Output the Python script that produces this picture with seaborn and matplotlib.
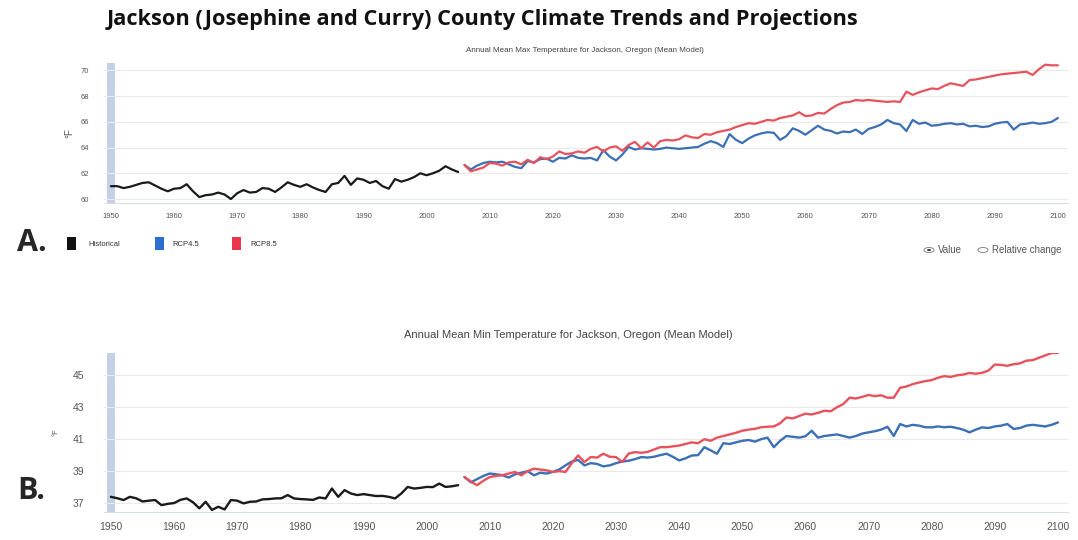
import matplotlib
matplotlib.use("Agg")

import matplotlib.pyplot as plt
import numpy as np
import pandas as pd
import seaborn as sns
from matplotlib.patches import Rectangle, Circle

# ---- data ----
hist_years = list(range(1950, 2006))
proj_years = list(range(2006, 2101))

tmax_hist = [
    61.0, 61.0, 60.85, 60.95, 61.1, 61.25, 61.3, 61.05, 60.8, 60.6,
    60.8, 60.85, 61.15, 60.6, 60.15, 60.3, 60.35, 60.5, 60.35, 60.0,
    60.45, 60.7, 60.5, 60.55, 60.85, 60.8, 60.55, 60.9, 61.3, 61.1,
    60.95, 61.15, 60.9, 60.7, 60.55, 61.15, 61.25, 61.8, 61.1, 61.6,
    61.5, 61.25, 61.4, 61.0, 60.8, 61.55, 61.35, 61.5, 61.7, 62.0,
    61.85, 62.0, 62.2, 62.55, 62.3, 62.1,
]
tmax_rcp45 = [
    62.65, 62.3, 62.6, 62.8,
    62.9, 62.85, 62.9, 62.7, 62.5, 62.4, 62.95, 62.85, 63.1, 63.15,
    62.9, 63.2, 63.15, 63.4, 63.2, 63.15, 63.2, 63.0, 63.8, 63.3,
    63.0, 63.45, 64.05, 63.85, 63.95, 63.9, 63.85, 63.9, 64.0, 63.95,
    63.9, 63.95, 64.0, 64.05, 64.3, 64.5, 64.35, 64.05, 65.05, 64.6,
    64.35, 64.7, 64.95, 65.1, 65.2, 65.15, 64.6, 64.9, 65.5, 65.3,
    65.0, 65.35, 65.7, 65.4, 65.3, 65.1, 65.25, 65.2, 65.4, 65.06,
    65.45, 65.6, 65.8, 66.15, 65.9, 65.8, 65.29, 66.15, 65.85, 65.95,
    65.7, 65.75, 65.85, 65.9, 65.8, 65.85, 65.65, 65.7, 65.6, 65.65,
    65.85, 65.95, 66.0, 65.4, 65.8, 65.85, 65.95, 65.85, 65.9, 66.0,
    66.3,
]
tmax_rcp85 = [
    62.65, 62.15, 62.3, 62.45,
    62.8, 62.75, 62.6, 62.85, 62.9, 62.7, 63.05, 62.8, 63.25, 63.1,
    63.3, 63.7, 63.5, 63.55, 63.7, 63.6, 63.9, 64.05, 63.7, 64.0,
    64.1, 63.75, 64.2, 64.45, 63.95, 64.4, 64.0, 64.5, 64.6, 64.55,
    64.65, 64.95, 64.8, 64.75, 65.05, 65.0, 65.2, 65.3, 65.4, 65.6,
    65.75, 65.9, 65.85, 66.0, 66.15, 66.1, 66.3, 66.4, 66.5, 66.75,
    66.45, 66.5, 66.7, 66.65, 67.0, 67.3, 67.5, 67.55, 67.7, 67.65,
    67.7, 67.65, 67.6, 67.55, 67.6, 67.55, 68.35, 68.1, 68.3, 68.45,
    68.6, 68.55, 68.8, 69.0, 68.9, 68.8, 69.25, 69.3, 69.4, 69.5,
    69.6, 69.7, 69.75, 69.8, 69.85, 69.9, 69.65, 70.1, 70.45, 70.4,
    70.4,
]

tmin_hist = [
    37.39, 37.3, 37.19, 37.39, 37.3, 37.1, 37.15, 37.19, 36.87, 36.95,
    37.0, 37.2, 37.29, 37.05, 36.67, 37.08, 36.57, 36.77, 36.6, 37.19,
    37.15, 36.98, 37.08, 37.1, 37.23, 37.25, 37.29, 37.3, 37.5, 37.29,
    37.25, 37.23, 37.2, 37.35, 37.29, 37.91, 37.39, 37.81, 37.6, 37.5,
    37.56, 37.5, 37.44, 37.45, 37.39, 37.29, 37.6, 38.01, 37.91, 37.95,
    38.01, 38.0, 38.22, 38.01, 38.05, 38.12,
]
tmin_rcp45 = [
    38.63, 38.3, 38.5, 38.7,
    38.85, 38.8, 38.75, 38.6, 38.8, 38.9, 39.0, 38.74, 38.9, 38.85,
    38.95, 39.1, 39.36, 39.6, 39.7, 39.36, 39.5, 39.45, 39.3, 39.36,
    39.5, 39.6, 39.65, 39.75, 39.88, 39.85, 39.9, 40.0, 40.09, 39.9,
    39.67, 39.8, 39.98, 40.0, 40.5, 40.3, 40.09, 40.75, 40.7, 40.8,
    40.9, 40.95, 40.85, 41.0, 41.1, 40.5, 40.9, 41.2, 41.15, 41.1,
    41.18, 41.53, 41.1, 41.2, 41.25, 41.3, 41.2, 41.1, 41.2, 41.35,
    41.43, 41.5, 41.6, 41.78, 41.2, 41.95, 41.8, 41.9, 41.85, 41.75,
    41.74, 41.8, 41.75, 41.78, 41.7, 41.6, 41.43, 41.6, 41.74, 41.7,
    41.8, 41.85, 41.95, 41.64, 41.7, 41.85, 41.9, 41.85, 41.8, 41.9,
    42.05,
]
tmin_rcp85 = [
    38.63, 38.35, 38.12, 38.4,
    38.63, 38.7, 38.74, 38.85, 38.95, 38.74, 39.0, 39.15, 39.1, 39.05,
    38.95, 39.0, 38.95, 39.5, 39.98, 39.57, 39.88, 39.85, 40.09, 39.9,
    39.88, 39.57, 40.1, 40.19, 40.15, 40.2, 40.35, 40.5, 40.5, 40.55,
    40.6, 40.7, 40.8, 40.75, 41.0, 40.9, 41.1, 41.2, 41.3, 41.4,
    41.53, 41.6, 41.65, 41.75, 41.78, 41.8, 42.0, 42.36, 42.3, 42.45,
    42.6, 42.55, 42.65, 42.78, 42.75, 43.0, 43.2, 43.6, 43.55, 43.65,
    43.77, 43.7, 43.75, 43.6, 43.6, 44.22, 44.3, 44.45, 44.55, 44.64,
    44.7, 44.85, 44.95, 44.9, 45.0, 45.05, 45.15, 45.1, 45.16, 45.3,
    45.68, 45.65, 45.6, 45.7, 45.75, 45.92, 45.95, 46.1, 46.25, 46.4,
    46.4,
]

series_names = ["Historical", "RCP4.5", "RCP8.5"]
palette = {"Historical": "#1a1a1a", "RCP4.5": "#3b6fb6", "RCP8.5": "#e8525c"}
legend_colors = {"Historical": "#111111", "RCP4.5": "#2a6fcf", "RCP8.5": "#e8364a"}

title = "Jackson (Josephine and Curry) County Climate Trends and Projections"
sub_max = "Annual Mean Max Temperature for Jackson, Oregon (Mean Model)"
sub_min = "Annual Mean Min Temperature for Jackson, Oregon (Mean Model)"
x_ticks = list(range(1950, 2101, 10))
y_ticks_max = [60, 62, 64, 66, 68, 70]
y_ticks_min = [37, 39, 41, 43, 45]


def to_long(hist, r45, r85):
    parts = [
        pd.DataFrame({"year": hist_years, "value": hist, "scenario": "Historical"}),
        pd.DataFrame({"year": proj_years, "value": r45, "scenario": "RCP4.5"}),
        pd.DataFrame({"year": proj_years, "value": r85, "scenario": "RCP8.5"}),
    ]
    return pd.concat(parts, ignore_index=True)


sns.set_theme(style="white")
plt.rcParams["font.family"] = ["Liberation Sans", "DejaVu Sans"]

fig = plt.figure(figsize=(10.78, 5.4), dpi=100)

W, H = 1078, 540


def axes_px(left, top, right, bottom):
    return fig.add_axes([left / W, 1 - bottom / H, (right - left) / W, (bottom - top) / H])


def style_axis(ax, df, ylim, yticks, tick_fs, lw, ypad):
    ax.axvspan(1949.3, 1950.7, color="#c3d0e6", zorder=0, lw=0)
    sns.lineplot(data=df, x="year", y="value", hue="scenario", hue_order=series_names,
                 palette=palette, linewidth=lw, legend=False, ax=ax, zorder=3)
    ax.set_xlim(1948.9, 2101.6)
    ax.set_ylim(*ylim)
    ax.set_yticks(yticks)
    ax.set_xticks(x_ticks)
    for y in yticks:
        ax.axhline(y, color="#e9e9e9", lw=0.8, zorder=1)
    for s in ["top", "right", "left"]:
        ax.spines[s].set_visible(False)
    ax.spines["bottom"].set_color("#d8dde6")
    ax.spines["bottom"].set_linewidth(0.8)
    ax.tick_params(axis="x", length=3, width=0.6, color="#d8dde6", labelsize=tick_fs,
                   labelcolor="#555555", pad=4)
    ax.tick_params(axis="y", length=0, labelsize=tick_fs, labelcolor="#555555", pad=ypad)
    ax.set_xlabel("")


# ---- top panel ----
ax1 = axes_px(104, 63, 1068, 203)
style_axis(ax1, to_long(tmax_hist, tmax_rcp45, tmax_rcp85), (59.69, 70.58), y_ticks_max, 5.5, 1.6, 11)
ax1.set_ylabel("°F", fontsize=7, color="#555555", labelpad=4)

# ---- bottom panel ----
ax2 = axes_px(104, 353, 1068, 512)
style_axis(ax2, to_long(tmin_hist, tmin_rcp45, tmin_rcp85), (36.44, 46.4), y_ticks_min, 7.5, 1.7, 14)
ax2.set_ylabel("°F", fontsize=5.5, color="#555555", labelpad=10)

# ---- texts ----
fig.text(107 / W, 1 - 19 / H, title, fontsize=15.7, fontweight="bold", family=["Open Sans", "DejaVu Sans"],
         color="#111111", ha="left", va="center")
fig.text(585 / W, 1 - 50 / H, sub_max, fontsize=5.8, color="#444444", ha="center", va="center")
fig.text(568 / W, 1 - 335 / H, sub_min, fontsize=8, color="#444444", ha="center", va="center")
fig.text(17 / W, 1 - 243 / H, "A.", fontsize=22, fontweight="bold", family=["Open Sans", "DejaVu Sans"],
         ha="left", va="center")
fig.text(17 / W, 1 - 491 / H, "B.", fontsize=22, fontweight="bold", family=["Open Sans", "DejaVu Sans"],
         ha="left", va="center")

# legend row
legend_pos = [(67, 88), (155, 172), (232, 250)]
for name, (px, tx) in zip(series_names, legend_pos):
    fig.patches.append(Rectangle((px / W, 1 - 250 / H), 9 / W, 13 / H, transform=fig.transFigure,
                                 facecolor=legend_colors[name], edgecolor="none"))
    fig.text(tx / W, 1 - 244 / H, name, fontsize=5.5, color="#333333", ha="left", va="center")

# radio buttons
for cx, label, tx, filled in [(929, "Value", 938, True), (983, "Relative change", 992, False)]:
    fig.patches.append(Circle((cx / W, 1 - 250 / H), 5 / W, transform=fig.transFigure,
                              facecolor="white", edgecolor="#888888", lw=0.7))
    if filled:
        fig.patches.append(Circle((cx / W, 1 - 250 / H), 2 / W, transform=fig.transFigure,
                                  facecolor="#333333", edgecolor="none"))
    fig.text(tx / W, 1 - 250 / H, label, fontsize=7, color="#555555", ha="left", va="center")

fig.savefig("out.png", dpi=100)
